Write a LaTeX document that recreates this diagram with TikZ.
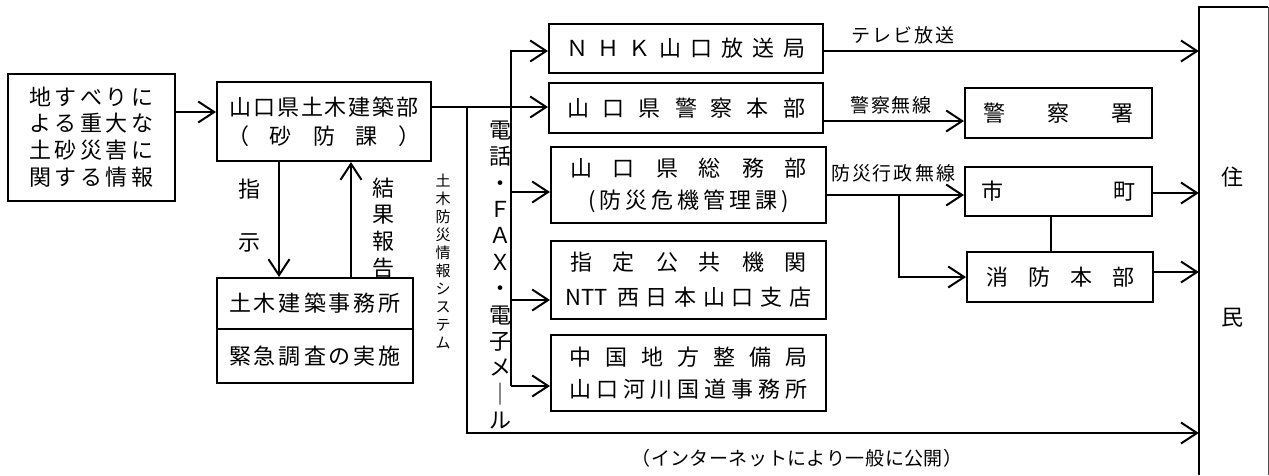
\documentclass[tikz,border=0pt]{standalone}
\usepackage{fontspec}
\setmainfont{Noto Sans CJK JP}
\usetikzlibrary{arrows.meta}
\makeatletter
\newcommand\spchars[2]{\@tfor\spc@c:=#2\do{\spc@c\hspace{#1}}\unskip}
\makeatother
\tikzset{
  box/.style={draw, line width=2pt, inner sep=0pt, align=center, font=\fontsize{22}{29}\selectfont},
  conn/.style={line width=2pt},
  arr/.style={conn, -{Straight Barb[length=16pt,width=21pt]}},
  lbl/.style={inner sep=0pt, font=\fontsize{19}{22}\selectfont},
  big/.style={inner sep=0pt, align=center, font=\fontsize{22}{26.6}\selectfont},
}
\begin{document}
\begin{tikzpicture}[x=1pt,y=-1pt]
\useasboundingbox (0,0) rectangle (1269,475);
% boxes
\node[box, minimum width=167pt, minimum height=127pt, font=\fontsize{22}{26.7}\selectfont] (b1) at (91.5,137)
  {\spchars{3.5pt}{地すべりに}\\\spchars{3.5pt}{よる重大な}\\\spchars{3.5pt}{土砂災害に}\\\spchars{3.5pt}{関する情報}};
\node[box, minimum width=214pt, minimum height=79pt] (b2) at (324,121.5)
  {\spchars{1.8pt}{山口県土木建築部}\\\spchars{21pt}{（砂防課）}};
\node[box, minimum width=196pt, minimum height=51pt] (b3a) at (315,303.5) {\spchars{3pt}{土木建築事務所}};
\node[box, minimum width=196pt, minimum height=54pt] (b3b) at (315,356) {\spchars{3pt}{緊急調査の実施}};
\node[box, minimum width=274pt, minimum height=49pt] (nhk) at (686,48.5) {\spchars{9pt}{ＮＨＫ山口放送局}};
\node[box, minimum width=274pt, minimum height=50pt] (pol) at (686,108) {\spchars{14pt}{山口県警察本部}};
\node[box, minimum width=275pt, minimum height=76pt, font=\fontsize{22}{32}\selectfont] (som) at (688.5,185)
  {\spchars{21pt}{山口県総務部}\\\spchars{4pt}{(防災危機管理課)}};
\node[box, minimum width=275pt, minimum height=78pt, font=\fontsize{22}{35}\selectfont] (ntt) at (688.5,280)
  {\spchars{21pt}{指定公共機関}\\NTT\hspace{9pt}\spchars{6.7pt}{西日本山口支店}};
\node[box, minimum width=275pt, minimum height=76pt, font=\fontsize{22}{32}\selectfont] (chu) at (688.5,373)
  {\spchars{14pt}{中国地方整備局}\\\spchars{5pt}{山口河川国道事務所}};
\node[box, minimum width=187pt, minimum height=50pt] (psta) at (1058.5,113) {\spchars{42pt}{警察署}};
\node[box, minimum width=187pt, minimum height=49pt] (city) at (1058.5,191.5) {\spchars{110pt}{市町}};
\node[box, minimum width=186pt, minimum height=50pt] (fire) at (1060,277) {\spchars{20pt}{消防本部}};
% residents
\node[inner sep=0pt, minimum width=69pt, minimum height=468pt] (res) at (1233.5,241) {};
\draw[line width=2pt] (res.south west) -- (res.north west) -- (res.north east);
\draw[line width=1pt, black!70] (res.north east) -- (res.south east);
\node[big] (rj) at (1232,177) {住};
\node[big] (rm) at (1232,318) {民};
% vertical texts
\node[big] (shi) at (249,189) {指};
\node[big] (ji) at (249,243) {示};
\node[big] (kekka) at (383,228) {結\\果\\報\\告};
\node[inner sep=0pt, align=center, font=\fontsize{15}{18}\selectfont] (dobo) at (443,261)
  {土\\木\\防\\災\\情\\報\\シ\\ス\\テ\\ム};
\node[inner sep=0pt, align=center, font=\fontsize{22}{26.4}\selectfont] (tel) at (500,275)
  {電\\話\\・\\Ｆ\\Ａ\\Ｘ\\・\\電\\子\\メ\\｜\\ル};
% connectors
\draw[arr] (b1.east |- 0,112) -- (b2.west |- 0,112);
\draw[arr] (b2.south -| 279,0) -- (b3a.north -| 279,0);
\draw[arr] (b3a.north -| 351,0) -- (b2.south -| 351,0);
\draw[arr] (b2.east |- 0,107) -- (pol.west |- 0,107);
\coordinate (j1) at (467,107);
\coordinate (j1b) at (467,433);
\draw[arr] (j1) -- (j1b) -- (res.west |- j1b);
\coordinate (t2) at (511,51);
\coordinate (b2c) at (511,386);
\draw[arr] (b2c) -- (t2) -- (nhk.west |- t2);
\draw[arr] (t2 |- 0,192) -- (som.west |- 0,192);
\draw[arr] (t2 |- 0,300) -- (ntt.west |- 0,300);
\draw[arr] (b2c) -- (chu.west |- b2c);
\draw[arr] (nhk.east |- 0,51) -- (res.west |- 0,51);
\draw[arr] (pol.east |- 0,121) -- (psta.west |- 0,121);
\draw[arr] (som.east |- 0,195) -- (city.west |- 0,195);
\coordinate (br) at (899,195);
\draw[arr] (br) -- (br |- 0,277) -- (fire.west |- 0,277);
\draw[conn] (city.south -| 1051,0) -- (fire.north -| 1051,0);
\draw[arr] (city.east |- 0,193) -- (res.west |- 0,193);
\draw[arr] (fire.east |- 0,272) -- (res.west |- 0,272);
% labels
\node[lbl] (l1) at (903,35) {\spchars{2pt}{テレビ放送}};
\node[lbl] (l2) at (891,105) {\spchars{2pt}{警察無線}};
\node[lbl] (l3) at (893,173) {\spchars{2pt}{防災行政無線}};
\node[lbl] (l4) at (797,458) {\spchars{0.5pt}{（インターネットにより一般に公開）}};
\end{tikzpicture}
\end{document}
